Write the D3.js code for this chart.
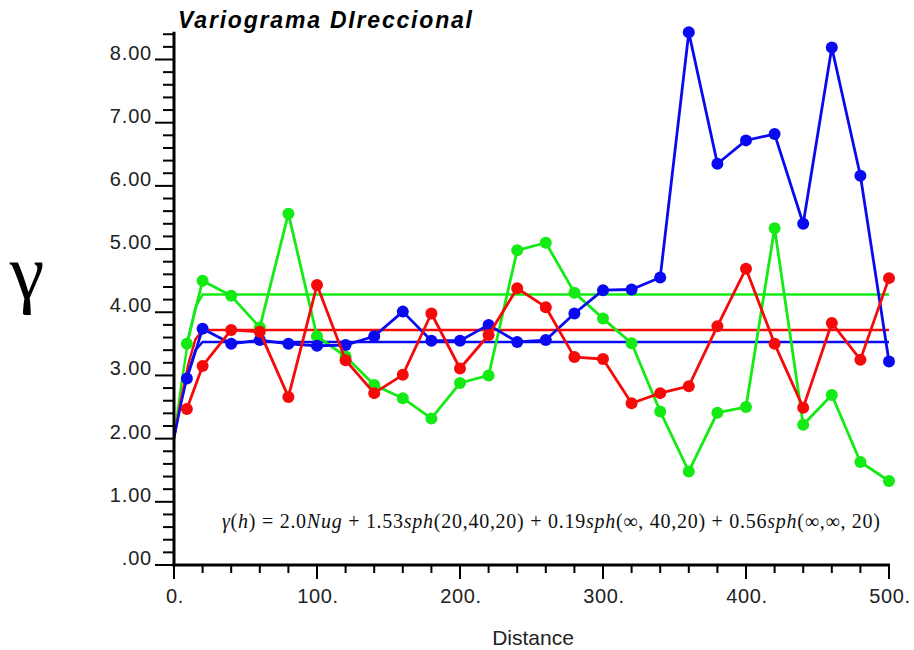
<!DOCTYPE html>
<html><head><meta charset="utf-8">
<script src="https://cdn.jsdelivr.net/npm/d3@7"></script>
<style>body{margin:0;background:#fff}svg{display:block}</style>
</head><body><svg id="c" width="914" height="650"></svg>
<script>
// ---- data ----
const lags = [9,20,40,60,80,100,120,140,160,180,200,220,240,260,280,300,320,340,360,380,400,420,440,460,480,500];
const blueValues  = [2.95,3.74,3.50,3.56,3.50,3.47,3.48,3.62,4.01,3.55,3.55,3.80,3.53,3.56,3.98,4.35,4.36,4.55,8.43,6.35,6.72,6.82,5.40,8.19,6.16,3.22];
const redValues   = [2.47,3.15,3.72,3.69,2.66,4.43,3.24,2.72,3.01,3.98,3.11,3.64,4.38,4.08,3.29,3.26,2.56,2.72,2.83,3.78,4.69,3.50,2.49,3.83,3.25,4.54];
const greenValues = [3.50,4.50,4.26,3.76,5.56,3.62,3.30,2.85,2.64,2.32,2.88,3.00,4.98,5.10,4.31,3.90,3.51,2.43,1.48,2.41,2.50,5.33,2.22,2.69,1.63,1.33];
const modelLags   = [0,5,10,15,20,500];
const blueModel   = [2.0,2.56,3.05,3.40,3.53,3.53];
const redModel    = [2.0,2.63,3.18,3.57,3.72,3.72];
const greenModel  = [2.0,2.84,3.57,4.08,4.28,4.28];
const yTickValues = [0,1,2,3,4,5,6,7,8];
const yTickLabels = [".00","1.00","2.00","3.00","4.00","5.00","6.00","7.00","8.00"];
const xTickValues = [0,100,200,300,400,500];
const xTickLabels = ["0.","100.","200.","300.","400.","500."];
const titleText = "Variograma DIreccional";
const xTitle = "Distance";
const yTitle = "γ";

// ---- drawing ----
const svg = d3.select("#c");
const x = d3.scaleLinear().domain([0,500]).range([174,889]);
const y = d3.scaleLinear().domain([0,8]).range([565,59.5]);
const yTop = y(8.44);

const colors = {blue:"#0a0af0", red:"#f50a0a", green:"#14ea14"};

// models
const line = d3.line().x(d=>x(d[0])).y(d=>y(d[1]));
[["green",greenModel],["red",redModel],["blue",blueModel]].forEach(([c,vals])=>{
  svg.append("path").datum(modelLags.map((l,i)=>[l,vals[i]]))
    .attr("d",line).attr("fill","none").attr("stroke",colors[c]).attr("stroke-width",2.4);
});
// experimental series
[["green",greenValues],["blue",blueValues],["red",redValues]].forEach(([c,vals])=>{
  const pts = lags.map((l,i)=>[l,vals[i]]);
  const g = svg.append("g");
  g.append("path").datum(pts).attr("d",line).attr("fill","none")
    .attr("stroke",colors[c]).attr("stroke-width",2.8).attr("stroke-linejoin","round");
  g.selectAll("circle").data(pts).join("circle")
    .attr("cx",d=>x(d[0])).attr("cy",d=>y(d[1])).attr("r",6).attr("fill",colors[c]);
});

// axes
const font = "'Liberation Sans', Arial, sans-serif";
const yMinor = d3.range(0,8.41,0.2);
const ax = svg.append("g");
ax.selectAll("line.ym").data(yMinor).join("line")
  .attr("x1",d=>Math.abs(d-Math.round(d))<1e-6?155:163).attr("x2",174).attr("y1",d=>y(d)).attr("y2",d=>y(d))
  .attr("stroke","#000").attr("stroke-width",2);
ax.append("line").attr("x1",174).attr("x2",174).attr("y1",yTop).attr("y2",566.5)
  .attr("stroke","#000").attr("stroke-width",3);
ax.selectAll("text.yl").data(yTickValues).join("text")
  .attr("x",152).attr("y",d=>y(d)).attr("text-anchor","end")
  .attr("font-family",font).attr("font-size",20).attr("letter-spacing",0.8).attr("fill","#222")
  .text((d,i)=>yTickLabels[i]);

const xMinor = d3.range(0,501,20);
ax.selectAll("line.xm").data(xMinor).join("line")
  .attr("x1",d=>x(d)).attr("x2",d=>x(d)).attr("y1",565)
  .attr("y2",d=>d%100===0?579:573)
  .attr("stroke","#000").attr("stroke-width",2);
ax.append("line").attr("x1",172.5).attr("x2",890).attr("y1",565).attr("y2",565)
  .attr("stroke","#000").attr("stroke-width",3);
ax.selectAll("text.xl").data(xTickValues).join("text")
  .attr("x",d=>x(d)+1).attr("y",603).attr("text-anchor","middle")
  .attr("font-family",font).attr("font-size",20).attr("letter-spacing",0.6).attr("fill","#222")
  .text((d,i)=>xTickLabels[i]);

// titles
svg.append("text").attr("x",178).attr("y",28).attr("font-family",font)
  .attr("font-size",23).attr("font-weight","bold").attr("font-style","italic")
  .attr("textLength",294).attr("lengthAdjust","spacing").text(titleText);
svg.append("text").attr("x",533).attr("y",645).attr("text-anchor","middle")
  .attr("font-family",font).attr("font-size",21).attr("fill","#222").text(xTitle);
svg.append("text").attr("x",27).attr("y",298).attr("text-anchor","middle")
  .attr("font-family","'Liberation Serif', 'Times New Roman', serif").attr("font-size",78).text(yTitle);

// formula
const f = svg.append("text").attr("x",222).attr("y",528)
  .attr("font-family","'Liberation Serif', 'DejaVu Serif', serif").attr("font-size",20).attr("fill","#111")
  .attr("textLength",658).attr("lengthAdjust","spacing");
const parts = [["γ",1],["(",0],["h",1],[") = 2.0",0],["Nug",1],[" + 1.53",0],["sph",1],["(20,40,20) + 0.19",0],["sph",1],["(∞, 40,20) + 0.56",0],["sph",1],["(∞,∞, 20)",0]];
parts.forEach(([t,it])=>f.append("tspan").attr("font-style",it?"italic":"normal").text(t));
</script></body></html>
